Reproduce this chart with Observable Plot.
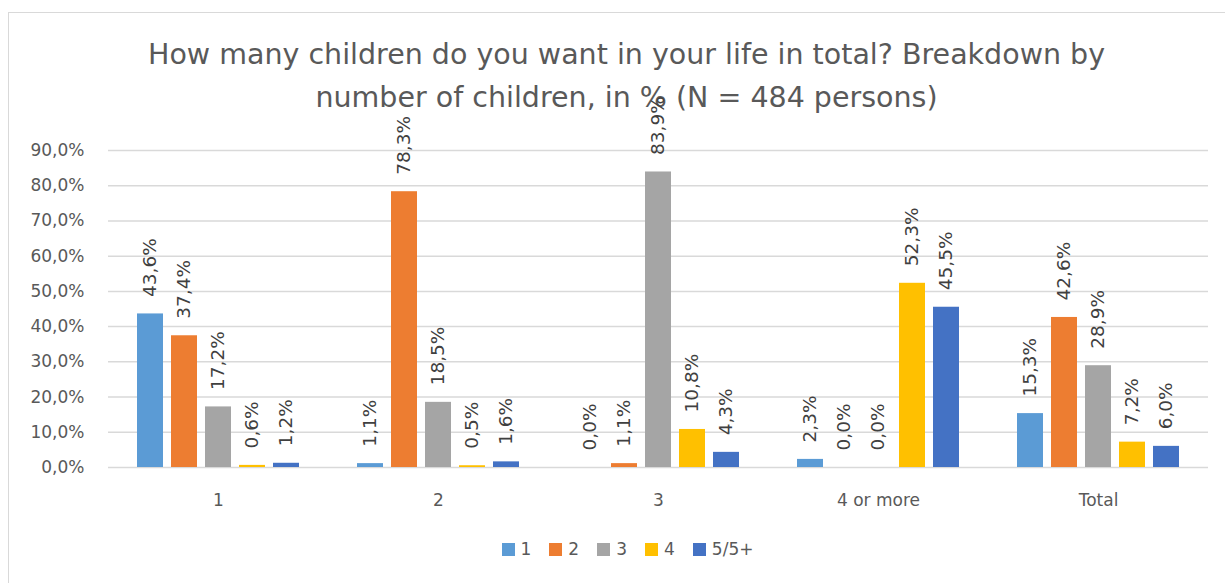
<!DOCTYPE html>
<html>
<head>
<meta charset="utf-8">
<script src="https://cdn.jsdelivr.net/npm/d3@7"></script>
<script src="https://cdn.jsdelivr.net/npm/@observablehq/plot@0.6"></script>
<style>
  html, body { margin: 0; padding: 0; background: #fff; overflow: hidden; }
  #wrap { position: relative; width: 1225px; height: 583px; overflow: hidden; font-family: "DejaVu Sans", sans-serif; }
  #frame { position: absolute; left: 8px; top: 12px; width: 1400px; height: 800px; border: 1.5px solid #d9d9d9; }
  .title { position: absolute; left: 0; width: 1253px; text-align: center; font-size: 28.5px; color: #595959; white-space: nowrap; }
  #chart { position: absolute; left: 0; top: 125px; }
  #legend { position: absolute; left: 0; top: 539px; width: 1255px; display: flex; justify-content: center; font-size: 17px; color: #595959; }
  .item { display: flex; align-items: center; margin: 0 9px; }
  .sw { width: 13px; height: 13px; margin-right: 6px; }
</style>
</head>
<body>
<div id="wrap">
  <div id="frame"></div>
  <div class="title" style="top:38px">How many children do you want in your life in total? Breakdown by</div>
  <div class="title" style="top:81px">number of children, in % (N = 484 persons)</div>
  <div id="chart"></div>
  <div id="legend"></div>
</div>
<script>
const groups = ["1", "2", "3", "4 or more", "Total"];
const seriesNames = ["1", "2", "3", "4", "5/5+"];
const seriesColors = ["#5B9BD5", "#ED7D31", "#A5A5A5", "#FFC000", "#4472C4"];
const s1 = [43.6, 1.1, 0.0, 2.3, 15.3];
const s2 = [37.4, 78.3, 1.1, 0.0, 42.6];
const s3 = [17.2, 18.5, 83.9, 0.0, 28.9];
const s4 = [0.6, 0.5, 10.8, 52.3, 7.2];
const s5 = [1.2, 1.6, 4.3, 45.5, 6.0];
const yTicks = [0, 10, 20, 30, 40, 50, 60, 70, 80, 90];

const seriesValues = [s1, s2, s3, s4, s5];
const fmt = v => v.toFixed(1).replace(".", ",") + "%";

const step = 34;
const barW = 26;
const bandW = 220;
const inset = (bandW - barW) / 2;

const marks = [
  Plot.gridY(yTicks, {stroke: "#d9d9d9", strokeOpacity: 1, strokeWidth: 1.5}),
  Plot.axisY(yTicks, {tickSize: 0, tickPadding: 24, tickFormat: fmt, fontSize: 17, fill: "#595959"}),
  Plot.axisX({tickSize: 0, tickPadding: 26, fontSize: 17, fill: "#595959", label: null})
];
seriesValues.forEach((vals, i) => {
  const rows = groups.map((g, j) => ({group: g, series: seriesNames[i], value: vals[j]}));
  const off = (i - 2) * step;
  marks.push(Plot.barY(rows, {x: "group", y: "value", fill: seriesColors[i], insetLeft: inset, insetRight: inset, dx: off}));
  marks.push(Plot.text(rows, {x: "group", y: "value", text: d => fmt(d.value), rotate: -90, textAnchor: "start", lineAnchor: "middle", dx: off, dy: -17, fontSize: 18.5, fill: "#404040"}));
});

const plot = Plot.plot({
  width: 1225,
  height: 395,
  marginLeft: 108,
  marginRight: 17,
  marginTop: 25,
  marginBottom: 53,
  style: {fontFamily: "DejaVu Sans, sans-serif", background: "transparent", overflow: "visible"},
  x: {domain: groups, padding: 0, label: null},
  y: {domain: [0, 90], label: null},
  marks
});
document.getElementById("chart").appendChild(plot);

const legend = document.getElementById("legend");
seriesNames.forEach((s, i) => {
  const it = document.createElement("div");
  it.className = "item";
  it.innerHTML = `<span class="sw" style="background:${seriesColors[i]}"></span><span>${s}</span>`;
  legend.appendChild(it);
});
</script>
</body>
</html>
